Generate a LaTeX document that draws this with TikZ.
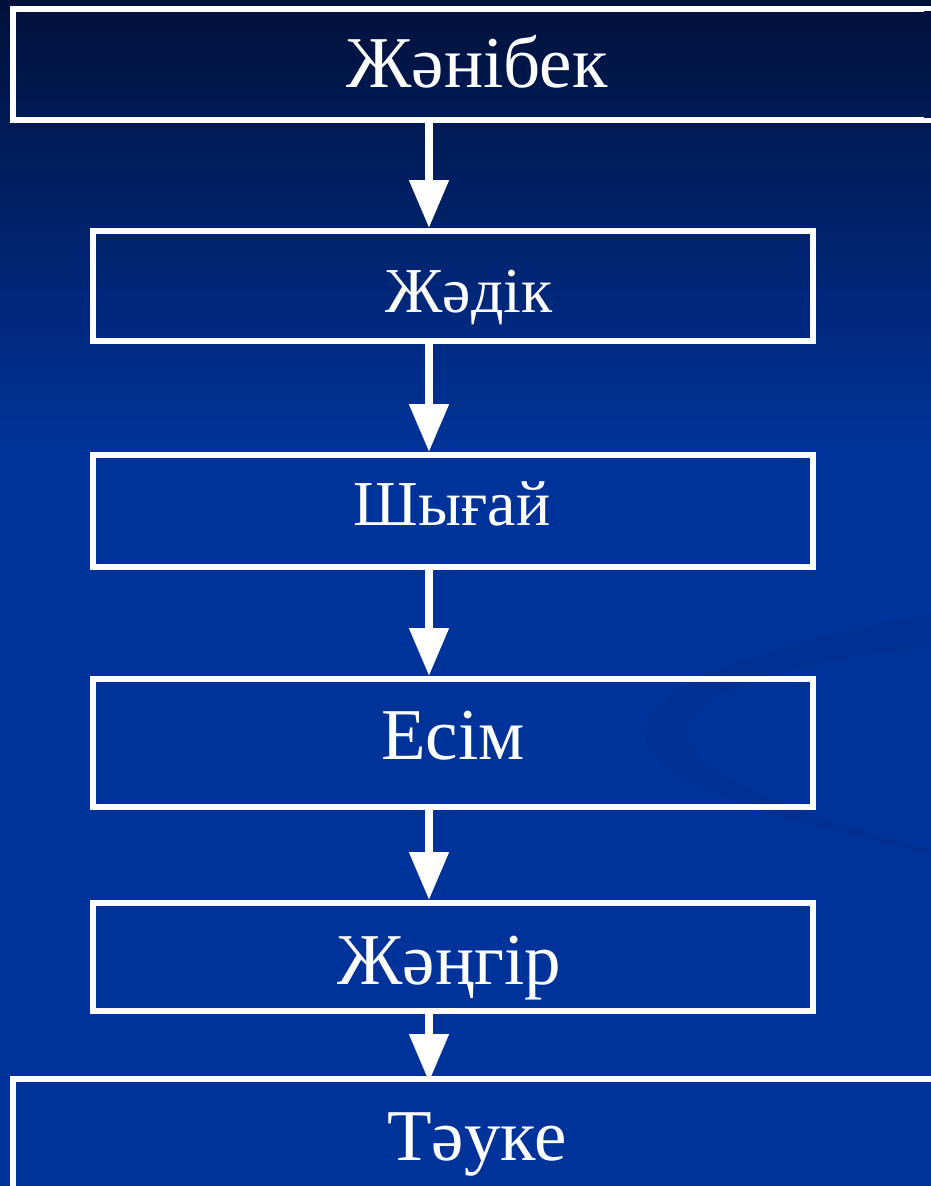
\documentclass[tikz,border=0pt]{standalone}
\usepackage{fontspec}
\setmainfont{Liberation Serif}
\usetikzlibrary{arrows.meta}
\definecolor{bgtop}{RGB}{0,17,58}
\definecolor{bgmid}{RGB}{0,51,153}
\definecolor{swirlc}{RGB}{0,44,138}
\begin{document}
\begin{tikzpicture}[x=1pt,y=-1pt,
  box/.style={draw=white,line width=6pt,inner sep=0pt,rectangle},
  openbox/.style={inner sep=0pt,outer sep=0pt,rectangle},
  edge/.style={draw=white,line width=6pt,line join=miter},
  bigtxt/.style={text=white,inner sep=0pt,anchor=base,font=\fontsize{73}{80}\selectfont},
  smalltxt/.style={text=white,inner sep=0pt,anchor=base,font=\fontsize{64}{70}\selectfont},
  arr/.style={draw=white,line width=8pt,-{Triangle[width=38pt,length=48pt]}}]
\useasboundingbox (0,0) rectangle (930,1186);
% background
\fill[bgmid] (0,0) rectangle (940,1190);
\shade[top color=bgtop,bottom color=bgmid] (0,0) rectangle (940,450);
% faint swirl
\fill[swirlc,opacity=0.3] (935,613) .. controls (780,640) and (650,680) .. (645,733)
   .. controls (645,790) and (820,830) .. (935,856)
   -- (935,850) .. controls (820,820) and (688,780) .. (688,733)
   .. controls (688,690) and (800,660) .. (935,648) -- cycle;
% boxes (top and bottom run on past the right edge of the picture)
\node[openbox,minimum width=927pt,minimum height=111pt] (b1) at (476.5,64.5) {};
\draw[edge] (b1.north east) -- (b1.north west) -- (b1.south west) -- (b1.south east);
\node[box,minimum width=720pt,minimum height=110pt] (b2) at (453,286) {};
\node[box,minimum width=720pt,minimum height=112pt] (b3) at (453,511) {};
\node[box,minimum width=720pt,minimum height=128pt] (b4) at (453,743) {};
\node[box,minimum width=720pt,minimum height=108pt] (b5) at (453,957) {};
\node[openbox,minimum width=927pt,minimum height=122pt] (b6) at (476.5,1140) {};
\draw[edge] (b6.north east) -- (b6.north west) -- (b6.south west) -- (b6.south east);
% keep the open right side of the top and bottom boxes in background colour
\begin{scope}
  \clip (924,11.5) rectangle (940,117.5);
  \shade[top color=bgtop,bottom color=bgmid] (0,0) rectangle (940,450);
\end{scope}
\fill[bgmid] (924,1083.5) rectangle (940,1190);
% texts
\node[bigtxt] (t1) at (477,87) {Жәнібек};
\node[smalltxt] (t2) at (469,312) {Жәдік};
\node[smalltxt] (t3) at (452,525) {Шығай};
\node[bigtxt] (t4) at (453,759) {Есім};
\node[bigtxt] (t5) at (449,984) {Жәңгір};
\node[bigtxt] (t6) at (477,1160) {Тәуке};
% arrows
\coordinate (ax) at (429,0);
\draw[arr] ([yshift=3pt]b1.south -| ax) -- (b2.north -| ax);
\draw[arr] (b2.south -| ax) -- (b3.north -| ax);
\draw[arr] (b3.south -| ax) -- (b4.north -| ax);
\draw[arr] (b4.south -| ax) -- (b5.north -| ax);
\draw[arr] (b5.south -| ax) -- ([yshift=-3pt]b6.north -| ax);
\end{tikzpicture}
\end{document}
